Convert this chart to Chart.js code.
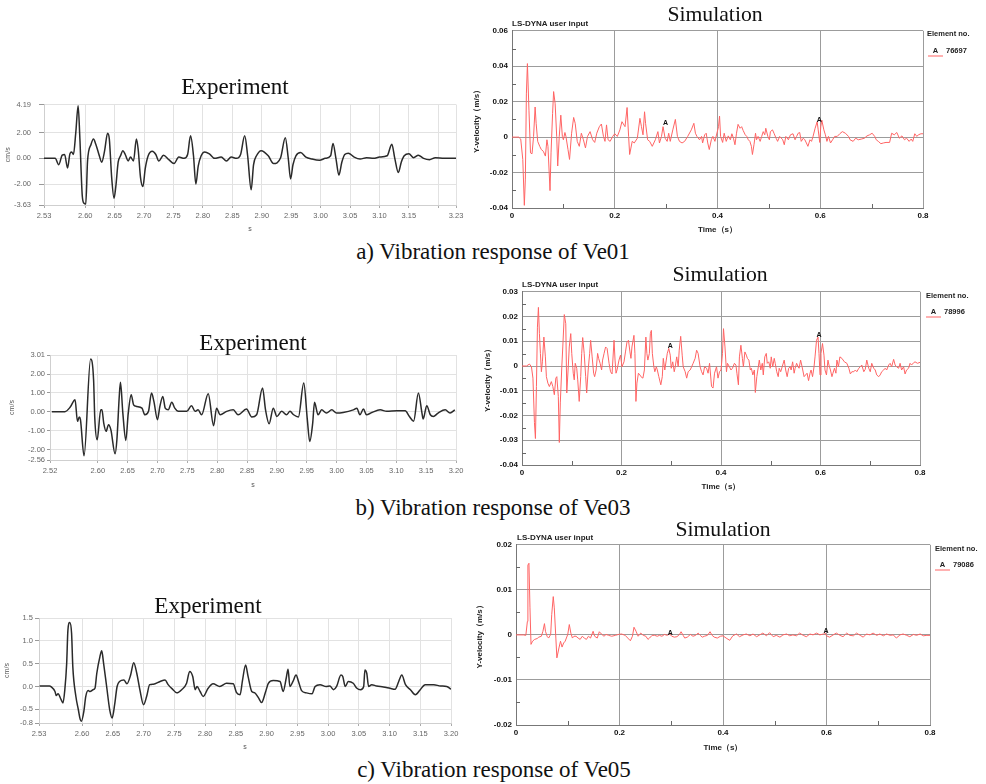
<!DOCTYPE html>
<html>
<head>
<meta charset="utf-8">
<script src="https://cdn.jsdelivr.net/npm/chart.js@4.4.1/dist/chart.umd.min.js"></script>
<style>
  body { margin: 0; background: #fff; width: 986px; height: 784px; position: relative; overflow: hidden; }
  canvas { position: absolute; }
  .t { position: absolute; white-space: nowrap; transform: translate(-50%, -50%); line-height: 1; color: #111;
       font-family: 'Liberation Serif', 'Times New Roman', serif; }
  .exp { font-size: 23px; }
  .sim { font-size: 21.7px; }
  .cap { font-size: 23px; }
  .sm { position: absolute; white-space: nowrap; transform: translate(0, -50%); line-height: 1;
        font: bold 8px 'Liberation Sans', Arial, sans-serif; color: #222; }
  .lg { font-size: 7.5px; }
  .lgA { display: inline-block; width: 15px; text-align: center; border-bottom: 1px solid #ff6464; margin-right: 3px; padding-bottom: 1px; }
</style>
</head>
<body>
<canvas id="expA"></canvas>
<canvas id="simA"></canvas>
<canvas id="expB"></canvas>
<canvas id="simB"></canvas>
<canvas id="expC"></canvas>
<canvas id="simC"></canvas>

<div class="t exp" style="left:235px;top:86px">Experiment</div>
<div class="t sim" style="left:715px;top:15px">Simulation</div>
<div class="sm" style="left:512px;top:23px">LS-DYNA user input</div>
<div class="sm lg" style="left:927px;top:33px">Element no.</div>
<div class="sm lg" style="left:928px;top:51px"><span class="lgA">A</span>76697</div>
<div class="t cap" style="left:493px;top:251px">a) Vibration response of Ve01</div>

<div class="t exp" style="left:253px;top:342px">Experiment</div>
<div class="t sim" style="left:720px;top:275px">Simulation</div>
<div class="sm" style="left:522px;top:284px">LS-DYNA user input</div>
<div class="sm lg" style="left:926px;top:295px">Element no.</div>
<div class="sm lg" style="left:926px;top:312px"><span class="lgA">A</span>78996</div>
<div class="t cap" style="left:493px;top:507px">b) Vibration response of Ve03</div>

<div class="t exp" style="left:208px;top:605px">Experiment</div>
<div class="t sim" style="left:723px;top:530px">Simulation</div>
<div class="sm" style="left:517px;top:537px">LS-DYNA user input</div>
<div class="sm lg" style="left:935px;top:548px">Element no.</div>
<div class="sm lg" style="left:935px;top:565px"><span class="lgA">A</span>79086</div>
<div class="t cap" style="left:494px;top:769px">c) Vibration response of Ve05</div>

<script>
// ---------- experiment a (Ve01), cm/s vs s ----------
const expATime = [2.530, 2.549, 2.555, 2.561, 2.565, 2.570, 2.574, 2.577, 2.580, 2.584, 2.588, 2.591, 2.595, 2.598, 2.601,
  2.604, 2.610, 2.614, 2.618, 2.624, 2.628, 2.633, 2.638, 2.641, 2.645, 2.649, 2.652, 2.656, 2.660, 2.664, 2.668, 2.673,
  2.677, 2.682, 2.687, 2.690, 2.694, 2.698, 2.702, 2.707, 2.714, 2.720, 2.725, 2.733, 2.742, 2.751, 2.759, 2.768, 2.774,
  2.779, 2.784, 2.788, 2.792, 2.797, 2.803, 2.811, 2.820, 2.831, 2.840, 2.848, 2.857, 2.864, 2.871, 2.876, 2.882, 2.886,
  2.891, 2.899, 2.911, 2.920, 2.932, 2.940, 2.945, 2.949, 2.953, 2.958, 2.966, 2.975, 2.985, 2.998, 3.008, 3.017, 3.021,
  3.026, 3.031, 3.036, 3.041, 3.047, 3.057, 3.067, 3.078, 3.090, 3.100, 3.113, 3.121, 3.126, 3.132, 3.137, 3.142, 3.150,
  3.158, 3.166, 3.175, 3.185, 3.195, 3.210, 3.230];
const expAVel = [0, 0, -0.50, 0.25, 0.30, -0.75, 0.35, 0.50, 0.30, 2.0, 4.1, 1.5, -2.9, -3.5, -3.55,
  -0.2, 1.1, 1.5, 1.1, 0.2, -0.3, 0.6, 1.95, 1.5, -1.5, -3.1, -2.2, -0.3, 0.2, 0.6, 0.3, -0.2,
  0.1, -0.2, 1.5, 0.7, -1.5, -2.2, -0.8, 0.2, 0.55, 0.3, -0.2, 0.25, -0.1, -0.4, 0.1, 0.0, 0.3,
  1.75, 0.2, -2.0, -0.6, 0.2, 0.5, 0.35, 0.0, 0.1, -0.2, 0.1, 0.0, 0.3, 1.75, 0.2, -2.45, -0.5,
  0.2, 0.6, 0.2, -0.4, 0.05, 1.6, 0.0, -1.6, -0.5, 0.2, 0.45, 0.1, -0.05, -0.15, 0.0, 0.2, 1.15,
  0.0, -1.3, -0.3, 0.3, 0.4, 0.1, -0.05, 0.05, 0.0, 0.1, 0.2, 1.1, 0.0, -1.1, -0.3, 0.2, 0.35,
  0.05, 0.25, 0.0, -0.1, 0.05, 0.0, 0.0];
const expAXTicks = [2.53, 2.60, 2.65, 2.70, 2.75, 2.80, 2.85, 2.90, 2.95, 3.00, 3.05, 3.10, 3.15, 3.20, 3.23];
const expAXLabels = ['2.53', '2.60', '2.65', '2.70', '2.75', '2.80', '2.85', '2.90', '2.95', '3.00', '3.05', '3.10', '3.15', '', '3.23'];
const expAYTicks = [-3.63, -2, 0, 2, 4.19];
const expAYLabels = ['-3.63', '-2.00', '0.00', '2.00', '4.19'];

// ---------- experiment b (Ve03) ----------
const expBTime = [2.523, 2.545, 2.554, 2.562, 2.566, 2.569, 2.571, 2.577, 2.588, 2.593, 2.595, 2.599, 2.605, 2.607,
  2.610, 2.614, 2.618, 2.622, 2.629, 2.632, 2.636, 2.638, 2.642, 2.647, 2.651, 2.656, 2.660, 2.665, 2.674, 2.679,
  2.685, 2.690, 2.694, 2.700, 2.704, 2.709, 2.713, 2.718, 2.724, 2.729, 2.735, 2.749, 2.757, 2.763, 2.768, 2.774,
  2.785, 2.794, 2.799, 2.805, 2.816, 2.827, 2.835, 2.849, 2.858, 2.866, 2.876, 2.881, 2.887, 2.894, 2.900, 2.908,
  2.916, 2.922, 2.928, 2.936, 2.945, 2.951, 2.955, 2.960, 2.963, 2.969, 2.975, 2.983, 2.992, 3.000, 3.011, 3.028,
  3.034, 3.039, 3.045, 3.050, 3.059, 3.073, 3.084, 3.101, 3.115, 3.122, 3.129, 3.137, 3.143, 3.145, 3.151, 3.157,
  3.162, 3.170, 3.182, 3.190, 3.198];
const expBVel = [0, 0, 0.25, 0.64, -0.51, -0.28, -0.42, -2.34, 2.8, 1.7, -0.34, -1.49, 0.1, 0.1,
  -0.6, -1.04, -0.69, -0.96, -2.23, -1.5, 0.81, 1.56, -0.07, -1.52, -0.1, 0.9, 0.37, 0.28, 0.19, -0.16,
  0.02, 0.99, 0.55, -0.42, 0.28, 0.81, 0.19, 0.1, 0.5, 0.19, 0.02, 0.02, 0.32, 0.02, 0.1, -0.16,
  0.96, -0.74, 0.19, -0.16, 0.02, 0.1, -0.16, 0.14, -0.28, -0.16, 1.26, 0.1, -0.64, 0.19, -0.25, 0.02,
  -0.16, 0.02, -0.16, -0.28, 1.52, -0.42, -1.58, -0.6, 0.5, -0.16, 0.1, -0.07, 0.1, -0.07, -0.04, 0.1,
  0.19, -0.16, 0.14, -0.16, -0.04, 0.1, 0.02, 0.05, 0.05, -0.25, -0.5, 0.99, -0.07, -0.39, 0.32, -0.16,
  -0.25, -0.07, 0.1, -0.07, 0.1];
const expBXTicks = [2.52, 2.60, 2.65, 2.70, 2.75, 2.80, 2.85, 2.90, 2.95, 3.00, 3.05, 3.10, 3.15, 3.20];
const expBYTicks = [-2.56, -2, -1, 0, 1, 2, 3.01];
const expBYLabels = ['-2.56', '-2.00', '-1.00', '0.00', '1.00', '2.00', '3.01'];

// ---------- experiment c (Ve05) ----------
const expCTime = [2.531, 2.547, 2.550, 2.556, 2.558, 2.561, 2.566, 2.569, 2.572, 2.575, 2.577, 2.580, 2.583, 2.585,
  2.590, 2.594, 2.597, 2.599, 2.603, 2.606, 2.610, 2.613, 2.618, 2.621, 2.624, 2.629, 2.632, 2.635, 2.640, 2.645,
  2.649, 2.653, 2.657, 2.661, 2.668, 2.673, 2.679, 2.684, 2.689, 2.694, 2.700, 2.705, 2.710, 2.716, 2.727, 2.735,
  2.740, 2.748, 2.754, 2.762, 2.770, 2.775, 2.780, 2.784, 2.787, 2.792, 2.797, 2.805, 2.813, 2.824, 2.835, 2.846,
  2.851, 2.857, 2.861, 2.866, 2.870, 2.876, 2.881, 2.887, 2.892, 2.898, 2.903, 2.911, 2.922, 2.927, 2.932, 2.935,
  2.938, 2.943, 2.948, 2.952, 2.957, 2.965, 2.974, 2.979, 2.987, 2.997, 3.003, 3.009, 3.014, 3.021, 3.024, 3.028,
  3.033, 3.041, 3.047, 3.053, 3.058, 3.060, 3.063, 3.066, 3.071, 3.079, 3.090, 3.101, 3.109, 3.115, 3.120, 3.126,
  3.134, 3.142, 3.150, 3.158, 3.172, 3.183, 3.193, 3.200];
const expCVel = [0.01, 0.01, -0.01, -0.11, -0.2, -0.16, -0.29, -0.36, -0.07, 0.5, 1.23, 1.4, 1.16, 0.43,
  -0.22, -0.51, -0.72, -0.76, -0.54, -0.22, -0.09, -0.11, -0.07, -0.04, 0.29, 0.65, 0.78, 0.51, 0.0, -0.51,
  -0.69, -0.4, 0.0, 0.11, 0.14, 0.06, 0.25, 0.52, 0.29, -0.07, -0.4, -0.22, 0.04, 0.05, 0.11, 0.14,
  0.04, -0.07, -0.14, -0.07, 0.07, 0.33, 0.22, -0.07, 0.0, -0.11, -0.22, -0.04, 0.06, 0.0, 0.07, 0.06,
  -0.13, -0.18, 0.14, 0.47, 0.22, -0.11, -0.14, -0.25, -0.35, -0.14, 0.07, 0.13, 0.11, -0.11, 0.18, 0.38,
  0.0, 0.11, 0.25, 0.11, -0.09, -0.14, -0.16, 0.0, 0.04, 0.0, 0.01, -0.07, 0.0, 0.25, 0.22, 0.0,
  0.11, 0.07, -0.04, -0.07, 0.0, 0.36, 0.29, 0.0, 0.04, 0.01, -0.01, -0.04, -0.06, 0.11, 0.25, 0.04,
  -0.07, -0.18, -0.07, 0.04, 0.04, 0.01, 0.0, -0.06];
const expCXTicks = [2.53, 2.60, 2.65, 2.70, 2.75, 2.80, 2.85, 2.90, 2.95, 3.00, 3.05, 3.10, 3.15, 3.20];
const expCYTicks = [-0.8, -0.5, 0, 0.5, 1.0, 1.5];
const expCYLabels = ['-0.8', '-0.5', '0.0', '0.5', '1.0', '1.5'];

// ---------- simulation a (element 76697), m/s vs s ----------
const simATime = [0.000, 0.013, 0.017, 0.021, 0.024, 0.026, 0.028, 0.030, 0.033, 0.036, 0.039, 0.042, 0.045, 0.047,
  0.050, 0.054, 0.057, 0.061, 0.065, 0.068, 0.070, 0.074, 0.076, 0.079, 0.081, 0.084, 0.087, 0.089, 0.092, 0.095,
  0.098, 0.100, 0.103, 0.105, 0.109, 0.112, 0.116, 0.120, 0.123, 0.127, 0.131, 0.135, 0.139, 0.143, 0.147, 0.152,
  0.157, 0.161, 0.165, 0.170, 0.174, 0.178, 0.181, 0.184, 0.187, 0.191, 0.196, 0.200, 0.205, 0.210, 0.214, 0.220,
  0.224, 0.227, 0.229, 0.234, 0.238, 0.244, 0.249, 0.252, 0.255, 0.258, 0.260, 0.264, 0.268, 0.273, 0.279, 0.284,
  0.287, 0.291, 0.294, 0.298, 0.302, 0.305, 0.308, 0.313, 0.318, 0.322, 0.326, 0.331, 0.336, 0.342, 0.349, 0.354,
  0.357, 0.360, 0.365, 0.369, 0.371, 0.375, 0.378, 0.381, 0.384, 0.388, 0.391, 0.395,
  0.402, 0.404, 0.406, 0.410, 0.413, 0.417, 0.421, 0.425, 0.428, 0.431, 0.434, 0.437, 0.440, 0.444, 0.447, 0.450,
  0.454, 0.457, 0.460, 0.463, 0.466, 0.468, 0.471, 0.474, 0.476, 0.479, 0.483, 0.486, 0.489, 0.492, 0.494, 0.498,
  0.501, 0.503, 0.507, 0.510, 0.514, 0.517, 0.521, 0.527, 0.530, 0.533, 0.538, 0.542, 0.547, 0.551, 0.554, 0.557,
  0.560, 0.563, 0.567, 0.570, 0.573, 0.576, 0.580, 0.583, 0.586, 0.590, 0.594, 0.596, 0.599, 0.601, 0.603, 0.607,
  0.610, 0.613, 0.616, 0.620, 0.624, 0.628, 0.633, 0.638, 0.643, 0.649, 0.655, 0.658, 0.664, 0.669, 0.674, 0.680,
  0.686, 0.691, 0.696, 0.701, 0.706, 0.709, 0.713, 0.718, 0.723, 0.728, 0.735, 0.739, 0.744, 0.749, 0.754, 0.759,
  0.764, 0.768, 0.773, 0.777, 0.780, 0.784, 0.788, 0.791, 0.796, 0.800];
const simAVel = [0, 0, -0.0011, -0.0126, -0.0385, -0.0237, 0.0244, 0.0415, 0.0152, -0.0089, -0.0094, 0.0004, 0.017, 0.0078,
  -0.0024, -0.0052, -0.0070, -0.0080, -0.0107, -0.0015, -0.0052, -0.0302, -0.0089, 0.0133, 0.0257, 0.0189, 0.0004, -0.0163, 0.0004, 0.0124,
  0.0004, -0.0015, 0.0026, 0.0004, -0.0070, -0.0126, 0.0022, 0.0111, 0.0078, -0.0024, -0.0052, 0.0022, -0.0015, -0.0061, 0.0004, 0.0031,
  -0.0015, -0.003, 0.0022, 0.0059, 0.0074, 0.0004, -0.0024, 0.0069, -0.0015, -0.0024, 0.0004, 0.0019, 0.0004, 0.0041, 0.0087, 0.0059,
  0.0167, 0.0004, -0.0098, -0.0024, -0.0033, -0.0006, 0.0106, 0.0059, 0.0013, 0.0143, 0.0078, -0.0015, -0.0024, -0.0052, -0.0015, 0.0031,
  -0.0033, 0.0004, 0.0059, -0.0006, -0.0024, 0.0022, -0.0024, 0.0041, 0.0100, 0.0004, -0.0024, -0.0033, -0.0024, 0.0004, 0.0041, 0.0078,
  0.0022, 0.0004, -0.0015, 0.0004, -0.0033, 0.0013, 0.0022, -0.0033, -0.0070, -0.0015, 0.0004, -0.0024,
  0.0059, 0.0119, 0.0004, -0.003, 0.0022, -0.0024, 0.0007, -0.0015, 0.0019, -0.0006, -0.0043, 0.0022, 0.0072, 0.005, 0.0059, 0.0037,
  0.0013, 0.0004, -0.0015, -0.0024, -0.0052, -0.0098, -0.0043, 0.0022, -0.0015, 0.0004, -0.0024, 0.0004, 0.0031, 0.0013, 0.005, 0.0004,
  -0.0015, 0.0031, 0.0041, 0.0022, -0.0006, -0.0024, 0.0004, -0.0015, -0.0043, 0.0004, -0.0015, 0.0013, 0.0019, -0.0015, 0.0004, 0.0022,
  0.0026, -0.0024, -0.0006, -0.0015, -0.0033, -0.0052, -0.0015, -0.0024, 0.0004, 0.005, 0.0087, 0.0041, -0.003, 0.0059, 0.0096, 0.0041,
  0.0013, -0.0024, 0.0004, -0.0033, -0.0015, 0.0004, 0.0004, 0.0019, 0.0031, 0.0022, 0.0004, -0.0015, -0.0024, -0.0006, -0.0015, -0.0011,
  -0.0006, 0.0007, 0.0013, 0.0022, 0.0004, -0.0015, -0.0024, -0.0037, -0.0033, -0.003, -0.003, 0.0022, 0.0013, 0.0026, -0.0006, 0.0007,
  -0.0015, -0.0006, -0.0024, -0.0011, -0.0024, 0.0019, 0.0004, 0.0013, 0.0019, 0.0019];
const simAMarkTime = [0.299, 0.598];
const simAMarkVel = [0.0078, 0.0096];
const simAYTicks = [-0.04, -0.02, 0, 0.02, 0.04, 0.06];
const simAYLabels = ['-0.04', '-0.02', '0', '0.02', '0.04', '0.06'];
const simAYMinor = [-0.03, -0.01, 0.01, 0.03, 0.05];

// ---------- simulation b (element 78996) ----------
const simBTime = [0.000, 0.009, 0.015, 0.019, 0.022, 0.025, 0.027, 0.029, 0.031, 0.033, 0.035, 0.037, 0.039, 0.041,
  0.044, 0.047, 0.049, 0.052, 0.055, 0.059, 0.062, 0.065, 0.068, 0.070, 0.073, 0.075, 0.077, 0.080, 0.082, 0.085,
  0.088, 0.090, 0.093, 0.095, 0.098, 0.100, 0.103, 0.105, 0.107, 0.110, 0.112, 0.115, 0.118, 0.120, 0.122, 0.125,
  0.128, 0.130, 0.133, 0.136, 0.138, 0.141, 0.144, 0.146, 0.149, 0.152, 0.154, 0.157, 0.160, 0.162, 0.165, 0.168,
  0.171, 0.175, 0.178, 0.181, 0.185, 0.187, 0.189, 0.191, 0.195, 0.198, 0.201, 0.205, 0.208, 0.211, 0.214, 0.217,
  0.219, 0.221, 0.225, 0.227, 0.229, 0.231, 0.234, 0.237, 0.239, 0.243, 0.246, 0.249, 0.251, 0.253, 0.256, 0.258,
  0.260, 0.262, 0.265, 0.267, 0.270, 0.272, 0.275, 0.279, 0.282, 0.284, 0.287, 0.290, 0.292, 0.295, 0.298, 0.300,
  0.303, 0.306, 0.308, 0.311, 0.314, 0.316, 0.319, 0.322, 0.324, 0.328, 0.331, 0.334, 0.338, 0.341, 0.344, 0.348,
  0.351, 0.354, 0.358, 0.361, 0.364, 0.367, 0.371, 0.374, 0.377, 0.381, 0.384, 0.387, 0.391, 0.394, 0.397, 0.400,
  0.403, 0.405, 0.408, 0.411, 0.413, 0.417, 0.420, 0.423, 0.427, 0.430, 0.432, 0.435, 0.437, 0.440, 0.443, 0.445,
  0.448, 0.451, 0.453, 0.456, 0.459, 0.461, 0.464, 0.467, 0.469, 0.472, 0.475, 0.477, 0.480, 0.483, 0.485, 0.488,
  0.491, 0.493, 0.496, 0.499, 0.501, 0.504, 0.507, 0.509, 0.512, 0.515, 0.517, 0.520, 0.523, 0.527, 0.530, 0.533,
  0.536, 0.539, 0.541, 0.544, 0.547, 0.549, 0.552, 0.555, 0.557, 0.560, 0.563, 0.567, 0.570, 0.573, 0.576, 0.579,
  0.581, 0.584, 0.587, 0.589, 0.592, 0.595, 0.597, 0.599, 0.601, 0.604, 0.607, 0.609, 0.612, 0.615, 0.617, 0.620,
  0.623, 0.625, 0.628, 0.631, 0.633, 0.636, 0.639, 0.643, 0.648, 0.653, 0.657, 0.660, 0.663, 0.667, 0.670, 0.673,
  0.677, 0.680, 0.683, 0.687, 0.690, 0.693, 0.697, 0.700, 0.703, 0.707, 0.710, 0.713, 0.717, 0.720, 0.723, 0.727,
  0.730, 0.733, 0.737, 0.740, 0.743, 0.747, 0.750, 0.753, 0.757, 0.760, 0.763, 0.767, 0.770, 0.773, 0.777, 0.780,
  0.783, 0.787, 0.790, 0.795, 0.800];
const simBVel = [0, 0, 0.0008, -0.0003, -0.0049, -0.0229, -0.0293, -0.0083, 0.0157, 0.0237, 0.0131, 0.0051, -0.0023, 0.0017,
  0.0117, 0.0037, -0.0043, -0.0069, -0.0083, -0.0063, -0.0083, -0.0116, -0.0049, -0.0043, -0.0123, -0.0309, -0.0149, -0.0003, 0.0077, 0.0208,
  0.0171, -0.0109, -0.0003, 0.0077, 0.0131, 0.0051, -0.0029, -0.0056, 0.0011, -0.0009, -0.0056, -0.0143, -0.0043, 0.0051, 0.0115, 0.0051,
  -0.0043, -0.0109, -0.0016, 0.0051, 0.0104, 0.0037, -0.0029, -0.0043, -0.0016, 0.0051, 0.0031, 0.0011, -0.0016, 0.0024, 0.0051, 0.0077,
  0.0071, 0.0011, -0.0023, -0.0032, 0.0104, 0.0024, -0.0029, -0.0016, 0.0024, 0.0044, -0.0003, 0.0017, 0.0057, 0.0097, 0.0104, 0.0057,
  0.0031, 0.0077, 0.0124, 0.0051, -0.0143, -0.0069, -0.0029, -0.0036, -0.0043, -0.0049, -0.0016, 0.0117, 0.0051, 0.0024, 0.0051, 0.0131,
  0.0144, 0.0051, -0.0003, -0.0023, -0.0003, -0.0016, -0.0043, -0.0076, -0.0043, 0.0031, -0.0016, 0.0024, 0.0051, 0.0071, 0.0044, -0.0009,
  0.0017, -0.0023, -0.0003, 0.0037, -0.0003, 0.0064, 0.012, 0.0044, -0.0003, -0.0023, -0.0049, -0.0023, -0.0016, -0.0003, 0.0011, 0.0031,
  0.0064, 0.0051, -0.0003, -0.0023, -0.0036, -0.0003, -0.0009, -0.0029, 0.0011, -0.0083, -0.0089, -0.0029, -0.0003, -0.0049, -0.0023, -0.0016,
  0.0051, 0.0151, 0.0077, -0.0023, 0.0011, -0.0003, -0.0016, -0.0009, 0.0011, 0.0004, -0.0029, -0.0076, 0.0037, 0.0084, 0.0031, -0.0003,
  0.0057, 0.0044, 0.0031, 0.0024, -0.0016, -0.0009, -0.0036, -0.0016, -0.0107, -0.0043, -0.0003, 0.0024, -0.0016, 0.0011, -0.0036, 0.0037,
  0.0051, 0.0011, 0.0017, -0.0009, 0.0037, -0.0003, 0.0031, 0.0011, -0.0023, -0.0043, -0.0009, -0.0023, -0.0003, 0.0024, -0.0016, -0.0043,
  -0.0009, -0.0003, -0.0016, 0.0017, -0.0029, -0.0009, 0.0011, -0.0003, -0.0009, 0.0024, -0.0003, -0.0043, -0.0036, -0.0029, -0.0059, -0.0029,
  -0.0016, -0.0043, -0.0003, 0.0037, 0.0104, 0.0117, 0.0051, -0.0036, 0.0051, 0.0091, 0.0044, -0.0016, -0.0036, 0.0024, 0.0004, -0.0016,
  -0.0043, -0.0029, -0.0009, -0.0029, 0.0024, -0.0003, 0.0037, 0.0031, 0.0017, 0.0011, -0.0009, -0.0032, -0.0023, -0.0023, -0.0016, -0.0023,
  -0.0009, -0.0003, 0.0004, -0.0023, -0.0013, 0.0024, -0.0009, -0.0023, 0.0011, -0.0009, -0.0016, -0.0036, -0.0043, -0.0036, -0.0023, -0.0016,
  -0.0009, -0.0016, 0.0004, 0.0011, -0.0003, 0.0027, 0.0004, -0.0003, -0.0009, 0.0011, -0.0016, -0.0003, -0.0032, -0.0016, -0.0009, 0.0011,
  0.0004, 0.0013, 0.0017, 0.0011, 0.0015];
const simBMarkTime = [0.298, 0.597];
const simBMarkVel = [0.0080, 0.0127];
const simBYTicks = [-0.04, -0.03, -0.02, -0.01, 0, 0.01, 0.02, 0.03];
const simBYLabels = ['-0.04', '-0.03', '-0.02', '-0.01', '0', '0.01', '0.02', '0.03'];
const simBYMinor = [-0.035, -0.025, -0.015, -0.005, 0.005, 0.015, 0.025];

// ---------- simulation c (element 79086) ----------
const simCTime = [0.000, 0.014, 0.019, 0.022, 0.023, 0.025, 0.027, 0.029, 0.032, 0.036, 0.041, 0.044, 0.049, 0.052,
  0.055, 0.057, 0.060, 0.063, 0.067, 0.069, 0.072, 0.074, 0.077, 0.079, 0.083, 0.086, 0.089, 0.092, 0.095, 0.100,
  0.103, 0.106, 0.109, 0.112, 0.116, 0.120, 0.124, 0.128, 0.132, 0.136, 0.140, 0.144, 0.149, 0.152, 0.157, 0.161,
  0.165, 0.170, 0.174, 0.179, 0.185, 0.192, 0.198, 0.204, 0.211, 0.216, 0.221, 0.225, 0.228, 0.232, 0.236, 0.241,
  0.246, 0.251, 0.255, 0.258, 0.263, 0.268, 0.273, 0.277, 0.282, 0.287, 0.292, 0.297, 0.301, 0.306, 0.311, 0.316,
  0.319, 0.323, 0.326, 0.331, 0.337, 0.342, 0.347, 0.352, 0.356, 0.360, 0.364, 0.370, 0.375, 0.379, 0.383, 0.389,
  0.395, 0.400, 0.406, 0.413, 0.419, 0.426, 0.432, 0.439, 0.445, 0.452, 0.458, 0.465, 0.471, 0.477, 0.484, 0.490,
  0.497, 0.503, 0.510, 0.516, 0.523, 0.529, 0.535, 0.542, 0.548, 0.555, 0.561, 0.568, 0.574, 0.581, 0.587, 0.594,
  0.597, 0.600, 0.606, 0.613, 0.619, 0.626, 0.632, 0.639, 0.645, 0.652, 0.658, 0.665, 0.671, 0.677, 0.684, 0.690,
  0.697, 0.703, 0.710, 0.716, 0.723, 0.729, 0.735, 0.742, 0.748, 0.755, 0.761, 0.768, 0.774, 0.781, 0.787, 0.794,
  0.800];
const simCVel = [0, 0, -0.0001, 0.003, 0.0155, 0.0159, 0.006, -0.0021, -0.0014, -0.001, -0.0008, -0.0005, -0.0003, 0.0008,
  0.0025, 0.0008, -0.0003, -0.0007, 0.0001, 0.0045, 0.0085, 0.006, -0.0007, -0.0051, -0.0029, -0.0014, -0.0027, -0.0018, -0.0014, 0.0001,
  0.0023, 0.0004, -0.0007, -0.0003, -0.0003, -0.0007, -0.001, -0.0003, -0.0007, -0.001, -0.0003, -0.0007, 0.0008, -0.0003, -0.0007, 0.0007,
  0.0002, -0.0003, 0.0001, -0.0001, -0.0003, -0.0001, 0.0001, 0.0002, -0.0001, -0.0007, -0.0013, -0.0003, 0.0017, 0.0008, -0.0003, 0.0004,
  -0.0001, -0.0003, -0.001, -0.0007, -0.0001, -0.0001, -0.0003, -0.0001, -0.0003, 0.0001, -0.0001, 0.0002, -0.0003, -0.0005, -0.0004, 0.0001,
  0.0007, -0.0001, -0.0007, -0.0005, 0.0001, -0.0003, -0.0001, 0.0004, -0.0001, -0.0005, -0.0003, -0.0001, 0.0007, -0.0001, -0.0005, -0.0007,
  -0.0003, -0.0002, -0.0007, -0.0012, -0.0002, 0.0002, -0.0004, 0, 0.0002, -0.0002, 0.0002, -0.0004, 0, 0.0004, -0.0002, 0.0005,
  -0.0004, -0.0001, -0.0005, 0, 0.0002, -0.0002, 0, -0.0002, 0.0004, -0.0001, -0.0004, 0.0002, 0, 0.0004, 0, 0.0002,
  0.0005, -0.0002, -0.0005, 0, 0.0004, -0.0001, -0.0004, 0.0004, -0.0001, -0.0002, 0.0004, -0.0001, -0.0005, 0.0002, 0, 0.0004,
  -0.0001, 0.0002, -0.0002, 0.0002, -0.0001, 0, -0.0007, 0, 0.0002, -0.0001, -0.0004, 0.0001, -0.0001, 0.0002, -0.0002, -0.0001,
  -0.0001];
const simCMarkTime = [0.298, 0.599];
const simCMarkVel = [0.0003, 0.0008];
const simCYTicks = [-0.02, -0.01, 0, 0.01, 0.02];
const simCYLabels = ['-0.02', '-0.01', '0', '0.01', '0.02'];
const simCYMinor = [-0.015, -0.005, 0.005, 0.015];

const simXTicks = [0, 0.2, 0.4, 0.6, 0.8];
const simXLabels = ['0', '0.2', '0.4', '0.6', '0.8'];
const simXMinor = [0.1, 0.3, 0.5, 0.7];

Chart.defaults.font.family = "'Liberation Sans', Arial, sans-serif";

function pts(ts, vs) {
  const n = Math.min(ts.length, vs.length);
  const out = [];
  for (let i = 0; i < n; i++) out.push({ x: ts[i], y: vs[i] });
  return out;
}

// small inward tick marks between the grid lines (LS-DYNA style)
const minorTicks = {
  id: 'minorTicks',
  afterDraw(chart, args, opts) {
    if (!opts.x) return;
    const { ctx, chartArea: a, scales: { x, y } } = chart;
    ctx.save();
    ctx.strokeStyle = '#666';
    ctx.lineWidth = 1;
    ctx.beginPath();
    opts.x.forEach(v => {
      const px = Math.round(x.getPixelForValue(v)) + 0.5;
      ctx.moveTo(px, a.bottom); ctx.lineTo(px, a.bottom - 4);
    });
    opts.y.forEach(v => {
      const py = Math.round(y.getPixelForValue(v)) + 0.5;
      ctx.moveTo(a.left, py); ctx.lineTo(a.left + 4, py);
    });
    ctx.stroke();
    ctx.restore();
  }
};

// draws the curve letter "A" on its marker points
const markLetters = {
  id: 'markLetters',
  afterDatasetsDraw(chart) {
    const ctx = chart.ctx;
    chart.data.datasets.forEach((ds, i) => {
      if (!ds.markText) return;
      chart.getDatasetMeta(i).data.forEach(p => {
        ctx.save();
        ctx.font = "bold 7px 'Liberation Sans', Arial, sans-serif";
        ctx.fillStyle = '#111';
        ctx.textAlign = 'center';
        ctx.textBaseline = 'middle';
        ctx.fillText(ds.markText, p.x, p.y);
        ctx.restore();
      });
    });
  }
};

function makeChart(id, box, datasets, scales, pluginOpts, plugins) {
  const c = document.getElementById(id);
  c.width = box.R - box.L + box.padL + box.padR;
  c.height = box.B - box.T + box.padT + box.padB;
  c.style.left = (box.L - box.padL) + 'px';
  c.style.top = (box.T - box.padT) + 'px';
  scales.x.afterFit = s => { s.height = box.padB; };
  scales.y.afterFit = s => { s.width = box.padL; };
  return new Chart(c, {
    type: 'line',
    data: { datasets },
    options: {
      responsive: false,
      animation: false,
      events: [],
      layout: { padding: { left: 0, top: box.padT, right: box.padR, bottom: 0 } },
      plugins: Object.assign({ legend: { display: false }, tooltip: { enabled: false } }, pluginOpts),
      scales
    },
    plugins: plugins
  });
}

function expChart(id, box, time, vel, xTicks, xLabels, yTicks, yLabels, yTick) {
  const tickFont = { size: 7.5 };
  return makeChart(id, box, [{
    data: pts(time, vel),
    borderColor: '#2a2a2a',
    borderWidth: 1.5,
    pointRadius: 0,
    cubicInterpolationMode: 'monotone'
  }], {
    x: {
      type: 'linear', min: xTicks[0], max: xTicks[xTicks.length - 1],
      afterBuildTicks: s => { s.ticks = xTicks.map(v => ({ value: v })); },
      ticks: { autoSkip: false, maxRotation: 0, font: tickFont, color: '#666', padding: 3,
               callback: (v, i) => xLabels[i] },
      grid: { color: '#e2e2e2', tickLength: 3, tickColor: '#aaa' },
      border: { color: '#cfcfcf' },
      title: { display: true, text: 's', font: { size: 7 }, color: '#555', padding: 0 }
    },
    y: {
      type: 'linear', min: yTicks[0], max: yTicks[yTicks.length - 1],
      afterBuildTicks: s => { s.ticks = yTicks.map(v => ({ value: v })); },
      ticks: { autoSkip: false, font: tickFont, color: '#666', padding: yTick.pad,
               callback: (v, i) => yLabels[i] },
      grid: { color: '#e2e2e2', tickLength: yTick.len, tickColor: '#999' },
      border: { color: '#cfcfcf' },
      title: { display: true, text: 'cm/s', font: { size: 7 }, color: '#555', padding: 0 }
    }
  }, {}, []);
}

function simChart(id, box, time, vel, markT, markV, yTicks, yLabels, yMinor) {
  const tickFont = { size: 8, weight: 'bold' };
  return makeChart(id, box, [{
    data: pts(time, vel),
    borderColor: '#ff6464',
    borderWidth: 1,
    pointRadius: 0,
    tension: 0
  }, {
    data: pts(markT, markV),
    showLine: false,
    pointRadius: 0,
    markText: 'A'
  }], {
    x: {
      type: 'linear', min: 0, max: 0.8,
      afterBuildTicks: s => { s.ticks = simXTicks.map(v => ({ value: v })); },
      ticks: { autoSkip: false, maxRotation: 0, font: tickFont, color: '#111', padding: 3,
               callback: (v, i) => simXLabels[i] },
      grid: { color: '#9c9c9c', drawTicks: false },
      border: { color: '#777' },
      title: { display: true, text: 'Time（s）', font: { size: 8, weight: 'bold' }, color: '#222', padding: 0 }
    },
    y: {
      type: 'linear', min: yTicks[0], max: yTicks[yTicks.length - 1],
      afterBuildTicks: s => { s.ticks = yTicks.map(v => ({ value: v })); },
      ticks: { autoSkip: false, font: tickFont, color: '#111', padding: 4,
               callback: (v, i) => yLabels[i] },
      grid: { color: '#9c9c9c', drawTicks: false },
      border: { color: '#777' },
      title: { display: true, text: 'Y-velocity（m/s）', font: { size: 8, weight: 'bold' }, color: '#222', padding: 0 }
    }
  }, { minorTicks: { x: simXMinor, y: yMinor } }, [minorTicks, markLetters]);
}

expChart('expA', { L: 44, T: 100, R: 456, B: 205, padL: 40, padT: 8, padR: 14, padB: 28 },
  expATime, expAVel, expAXTicks, expAXLabels, expAYTicks, expAYLabels, { len: 5, pad: 8 });
expChart('expB', { L: 50, T: 355, R: 456, B: 460, padL: 42, padT: 8, padR: 14, padB: 29 },
  expBTime, expBVel, expBXTicks, expBXTicks.map(v => v.toFixed(2)), expBYTicks, expBYLabels, { len: 3, pad: 2 });
expChart('expC', { L: 39, T: 618, R: 451, B: 723, padL: 36, padT: 8, padR: 14, padB: 28 },
  expCTime, expCVel, expCXTicks, expCXTicks.map(v => v.toFixed(2)), expCYTicks, expCYLabels, { len: 4, pad: 2 });

simChart('simA', { L: 512, T: 28, R: 923, B: 208, padL: 40, padT: 6, padR: 14, padB: 27 },
  simATime, simAVel, simAMarkTime, simAMarkVel, simAYTicks, simAYLabels, simAYMinor);
simChart('simB', { L: 522, T: 289, R: 920, B: 465, padL: 39, padT: 6, padR: 14, padB: 27 },
  simBTime, simBVel, simBMarkTime, simBMarkVel, simBYTicks, simBYLabels, simBYMinor);
simChart('simC', { L: 516, T: 542, R: 930, B: 725, padL: 41, padT: 6, padR: 14, padB: 28 },
  simCTime, simCVel, simCMarkTime, simCMarkVel, simCYTicks, simCYLabels, simCYMinor);
</script>
</body>
</html>
